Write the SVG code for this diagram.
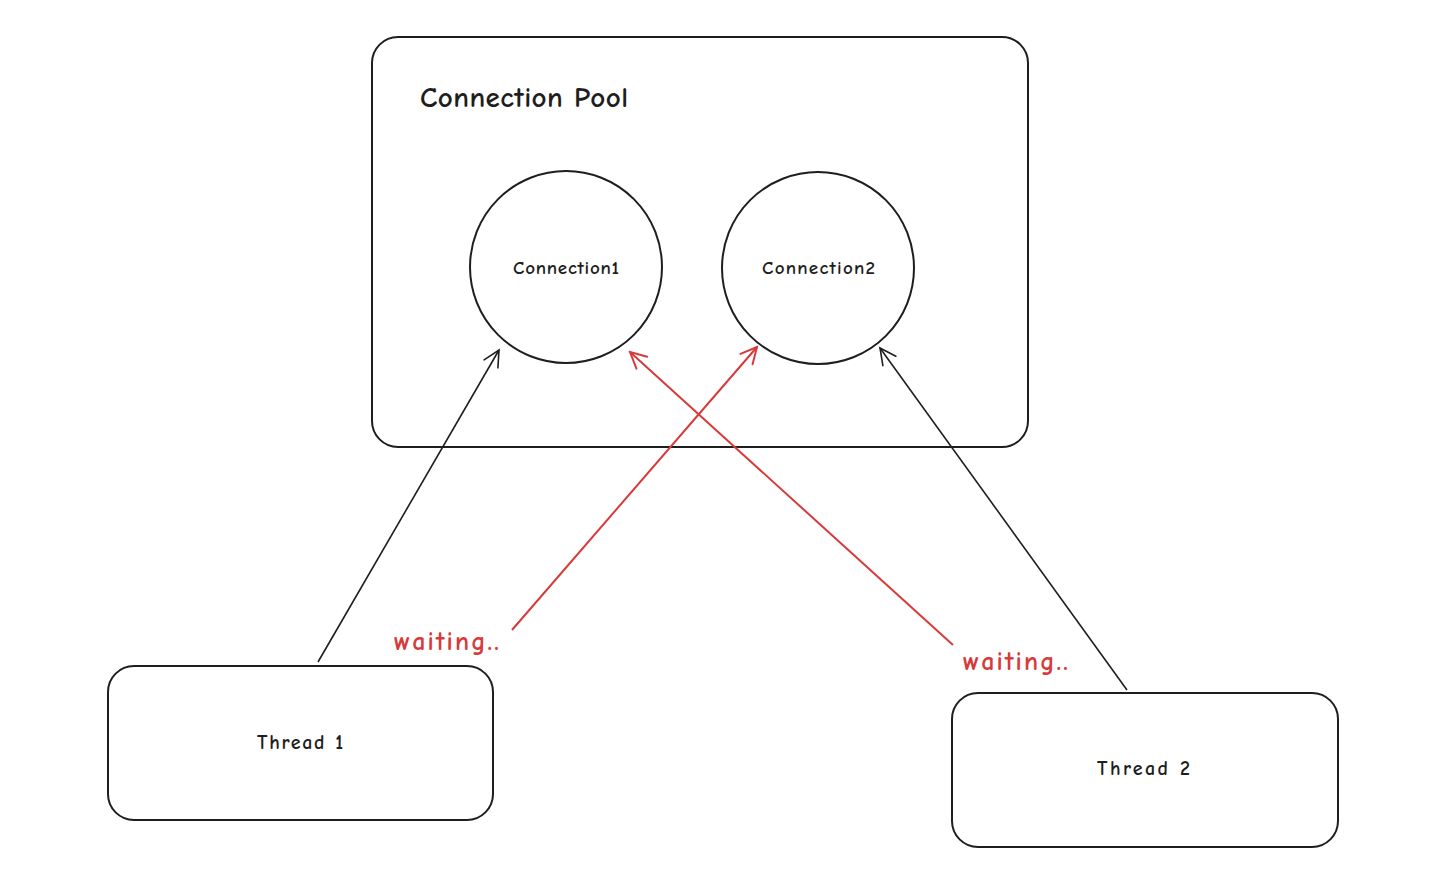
<svg xmlns="http://www.w3.org/2000/svg" width="1450" height="892" viewBox="0 0 1450 892">
<defs>
<marker id="ah-black" viewBox="0 0 20 20" refX="18" refY="10" markerWidth="20" markerHeight="20" markerUnits="userSpaceOnUse" orient="auto">
<path d="M2,2 L18,10 L2,18" fill="none" stroke="#1e1e1e" stroke-width="1.6" stroke-linecap="round"/>
</marker>
<marker id="ah-red" viewBox="0 0 20 20" refX="18" refY="10" markerWidth="20" markerHeight="20" markerUnits="userSpaceOnUse" orient="auto">
<path d="M2,2 L18,10 L2,18" fill="none" stroke="#d63a3a" stroke-width="2" stroke-linecap="round"/>
</marker>
</defs>
<style>
.shape{fill:#ffffff;stroke:#1e1e1e;stroke-width:2;}
.lbl{font-family:"Comic Neue","Liberation Sans",sans-serif;fill:#1e1e1e;font-weight:bold;}
.red{fill:#d63a3a;font-family:"Comic Neue","Liberation Sans",sans-serif;font-weight:bold;}
.conn-black{stroke:#1e1e1e;stroke-width:1.6;fill:none;}
.conn-red{stroke:#d63a3a;stroke-width:2;fill:none;}
</style>
<rect width="1450" height="892" fill="#ffffff"/>
<g id="pool">
<rect class="shape" x="372" y="37" width="656" height="410" rx="26"/>
<text class="lbl" x="420" y="107" font-size="29" textLength="208" lengthAdjust="spacing">Connection Pool</text>
</g>
<g id="connection1">
<circle class="shape" cx="566" cy="267" r="96"/>
<text class="lbl" x="513" y="274" font-size="19" textLength="106" lengthAdjust="spacing">Connection1</text>
</g>
<g id="connection2">
<circle class="shape" cx="818" cy="268" r="96"/>
<text class="lbl" x="762" y="274" font-size="19" textLength="113" lengthAdjust="spacing">Connection2</text>
</g>
<g id="thread1">
<rect class="shape" x="108" y="666" width="385" height="154" rx="26"/>
<text class="lbl" x="257" y="749" font-size="20" textLength="86" lengthAdjust="spacing">Thread 1</text>
</g>
<g id="thread2">
<rect class="shape" x="952" y="693" width="386" height="154" rx="26"/>
<text class="lbl" x="1097" y="775" font-size="20" textLength="93" lengthAdjust="spacing">Thread 2</text>
</g>
<g id="connectors">
<path class="conn-black" d="M318,662 L499,350" marker-end="url(#ah-black)"/>
<path class="conn-red" d="M512,630 L757,347" marker-end="url(#ah-red)"/>
<path class="conn-red" d="M953,645 L630,352" marker-end="url(#ah-red)"/>
<path class="conn-black" d="M1127,690 L880,348" stroke-width="2" marker-end="url(#ah-black)"/>
</g>
<g id="labels">
<text class="red" x="394" y="650" font-size="26" textLength="105" lengthAdjust="spacing">waiting..</text>
<text class="red" x="963" y="670" font-size="26" textLength="105" lengthAdjust="spacing">waiting..</text>
</g>
</svg>
